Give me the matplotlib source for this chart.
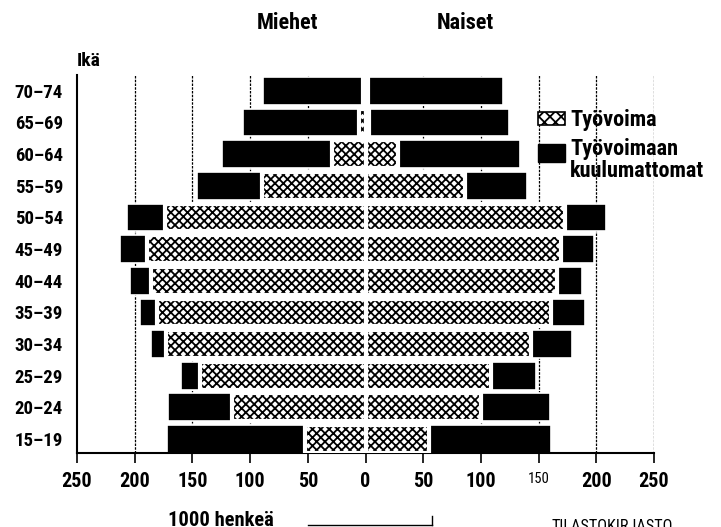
import matplotlib
matplotlib.use("Agg")
import matplotlib.pyplot as plt
from matplotlib import font_manager as fm
from matplotlib.patches import Rectangle

ages = ["15–19", "20–24", "25–29", "30–34", "35–39", "40–44",
        "45–49", "50–54", "55–59", "60–64", "65–69", "70–74"]
men_total = [172, 171, 160, 186, 195, 204, 213, 207, 146, 124, 106, 89]
men_labour = [52, 116, 143, 173, 181, 186, 189, 174, 90, 29, 6, 2]
women_total = [161, 160, 148, 179, 190, 188, 198, 208, 140, 134, 124, 119]
women_labour = [55, 100, 109, 143, 161, 166, 169, 173, 86, 28, 3, 2]
xticks = [-250, -200, -150, -100, -50, 0, 50, 100, 150, 200, 250]
xticklabels = ["250", "200", "150", "100", "50", "0", "50", "100", "150", "200", "250"]

names = {f.name for f in fm.fontManager.ttflist}
FAM = []
for cand in ["Roboto Condensed", "Archivo Narrow", "Asap Condensed", "Liberation Sans Narrow"]:
    if cand in names:
        FAM.append(cand)
        break
FAM.append("DejaVu Sans")
plt.rcParams["font.family"] = FAM
plt.rcParams["hatch.linewidth"] = 1.3

W, H = 721, 527
fig = plt.figure(figsize=(W / 100, H / 100), dpi=100)
ax = fig.add_axes([77 / W, 1 - 453 / H, (654 - 77) / W, (453 - 75) / H])

y = list(range(len(ages)))
bh = 0.88

for g in [-200, -150, -100, -50, 50, 100, 150, 200, 250]:
    ax.axvline(g, color="black", lw=0.9, ls=(0, (2, 1)), zorder=0)

neg = lambda a: [-v for v in a]
ax.barh(y, neg(men_total), height=bh, color="black", edgecolor="white", lw=1.2, zorder=2)
ax.barh(y, women_total, height=bh, color="black", edgecolor="white", lw=1.2, zorder=2)
for vals in (neg(men_labour), women_labour):
    ax.barh(y, vals, height=bh, facecolor="white", edgecolor="black", hatch="xxxx", lw=0, zorder=3)
    ax.barh(y, vals, height=bh, fill=False, edgecolor="white", lw=3.0, zorder=4)

ax.set_xlim(-250, 250)
ax.set_ylim(-0.44, 11.5)
ax.set_yticks(y)
ax.set_yticklabels(ages, fontsize=13.5, fontweight="bold")
ax.tick_params(axis="y", length=0, pad=10)
ax.set_xticks(xticks)
ax.set_xticklabels(xticklabels, fontsize=14.5, fontweight="bold")
ax.tick_params(axis="x", direction="out", length=7, width=1.2, pad=7)
lbls = ax.get_xticklabels()
lbls[8].set_fontsize(10.5)
lbls[8].set_fontweight("normal")
for s in ["top", "right"]:
    ax.spines[s].set_visible(False)
for s in ["left", "bottom"]:
    ax.spines[s].set_linewidth(1.5)

def fx(px):
    return px / W

def fy(py):
    return 1 - py / H

fig.text(fx(77), fy(61), "Ikä", fontsize=14, fontweight="bold", ha="left", va="center")
fig.text(fx(288), fy(23), "Miehet", fontsize=16, fontweight="bold", ha="center", va="center")
fig.text(fx(465), fy(23), "Naiset", fontsize=16, fontweight="bold", ha="center", va="center")

r1 = Rectangle((fx(538), fy(125)), (565 - 538) / W, 13 / H, transform=fig.transFigure,
               facecolor="white", edgecolor="black", hatch="xxx", lw=1.2)
r2 = Rectangle((fx(538), fy(162)), (565 - 538) / W, 18 / H, transform=fig.transFigure,
               facecolor="black", edgecolor="black", lw=1)
fig.patches.extend([r1, r2])
fig.text(fx(570), fy(120), "Työvoima", fontsize=16, fontweight="bold", ha="left", va="center")
fig.text(fx(570), fy(160), "Työvoimaan\nkuulumattomat", fontsize=16, fontweight="bold",
         ha="left", va="center", linespacing=0.95)

fig.text(fx(168), fy(511), "1000 henkeä", fontsize=14.8, fontweight="bold", ha="left", va="top")
fig.add_artist(plt.Line2D([fx(308), fx(432)], [fy(525), fy(525)], transform=fig.transFigure,
                          color="black", lw=1))
fig.add_artist(plt.Line2D([fx(432), fx(432)], [fy(516), fy(525)], transform=fig.transFigure,
                          color="black", lw=1))
fig.text(fx(552), fy(519), "TILASTOKIRJASTO", fontsize=11.7, ha="left", va="top")

fig.savefig("out.png", dpi=100)
